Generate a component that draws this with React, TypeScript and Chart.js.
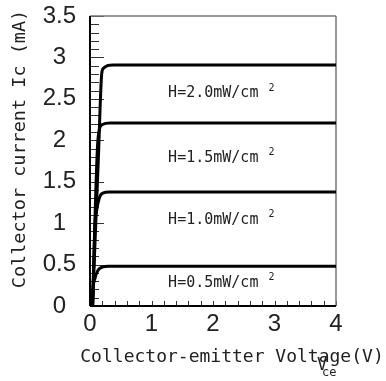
import React, { useEffect, useRef } from 'react';
import { Chart, registerables } from 'chart.js';

Chart.register(...registerables);

// Output characteristics (Vce in V, Ic in mA)
const curve20X = [0.04, 0.135, 0.19, 0.22, 0.28, 0.38, 4];
const curve20Y = [0, 1.76, 2.8, 2.87, 2.9, 2.91, 2.91];
const curve15X = [0.04, 0.12, 0.15, 0.2, 0.33, 4];
const curve15Y = [0, 1.9, 2.12, 2.19, 2.21, 2.21];
const curve10X = [0.045, 0.08, 0.11, 0.15, 0.2, 0.32, 4];
const curve10Y = [0, 0.97, 1.16, 1.3, 1.36, 1.375, 1.375];
const curve05X = [0.04, 0.05, 0.08, 0.13, 0.2, 0.3, 4];
const curve05Y = [0, 0.2, 0.33, 0.43, 0.47, 0.48, 0.48];

const labelTexts = ['H=2.0mW/cm', 'H=1.5mW/cm', 'H=1.0mW/cm', 'H=0.5mW/cm'];
const labelSup = '2';
const labelX = 1.27;
const labelY = [2.57, 1.79, 1.04, 0.28];

const xTitle = 'Collector-emitter Voltage(V)';
const yTitle = 'Collector current Ic (mA)';

const X_MIN = 0, X_MAX = 4, X_STEP = 1;
const Y_MIN = 0, Y_MAX = 3.5, Y_STEP = 0.5;

const tickFont = "'Liberation Sans', Arial, sans-serif";
const monoFont = "'DejaVu Sans Mono', monospace";

const toPts = (xs: number[], ys: number[]) => xs.map((v, i) => ({ x: v, y: ys[i] }));

const decor = {
  id: 'decor',
  beforeDatasetsDraw(chart: any) {
    const { ctx, chartArea, scales } = chart;
    const { left, right, top, bottom } = chartArea;
    const x = scales.x, y = scales.y;
    ctx.save();
    const line = (x1: number, y1: number, x2: number, y2: number) => {
      ctx.beginPath(); ctx.moveTo(x1, y1); ctx.lineTo(x2, y2); ctx.stroke();
    };
    // inward ticks
    ctx.strokeStyle = '#333';
    ctx.lineWidth = 1;
    for (let i = 0; i <= 35; i++) {
      const py = Math.round(y.getPixelForValue(i / 10)) + 0.5;
      line(left, py, left + (i % 5 === 0 ? 14 : 9), py);
    }
    for (let i = 0; i <= 20; i++) {
      const px = Math.round(x.getPixelForValue(i / 5)) + 0.5;
      line(px, bottom, px, bottom - 5);
    }
    // frame
    ctx.strokeStyle = '#777';
    ctx.lineWidth = 1.5;
    line(left, top, right, top);
    line(right, top, right, bottom);
    ctx.strokeStyle = '#000';
    ctx.lineWidth = 2;
    line(left, top, left, bottom);
    line(left, bottom, right, bottom);
    // annotations
    ctx.fillStyle = '#222';
    ctx.textBaseline = 'middle';
    ctx.textAlign = 'left';
    labelTexts.forEach((t, i) => {
      const px = x.getPixelForValue(labelX);
      const py = y.getPixelForValue(labelY[i]);
      ctx.font = `15px ${monoFont}`;
      ctx.fillText(t, px, py);
      const w = ctx.measureText(t).width;
      ctx.font = `10px ${monoFont}`;
      ctx.fillText(labelSup, px + w + 10, py - 5);
    });
    ctx.restore();
  },
  afterDraw(chart: any) {
    const { ctx } = chart;
    ctx.save();
    ctx.fillStyle = '#222';
    ctx.font = `18px ${monoFont}`;
    ctx.textBaseline = 'middle';
    ctx.textAlign = 'center';
    ctx.fillText(xTitle, 232, 357);
    ctx.textAlign = 'left';
    ctx.font = `17px ${monoFont}`;
    ctx.fillText('V', 317, 366);
    ctx.font = `12px ${monoFont}`;
    ctx.fillText('ce', 322, 373);
    ctx.translate(20, 149);
    ctx.rotate(-Math.PI / 2);
    ctx.font = `18.5px ${monoFont}`;
    ctx.textAlign = 'center';
    ctx.fillText(yTitle, 0, 0);
    ctx.restore();
  },
};

export default function App() {
  const ref = useRef<HTMLCanvasElement | null>(null);
  useEffect(() => {
    if (!ref.current) return;
    const ds = (xs: number[], ys: number[]) => ({
      data: toPts(xs, ys),
      borderColor: '#000',
      borderWidth: 3,
      pointRadius: 0,
      fill: false,
      cubicInterpolationMode: 'monotone' as const,
    });
    const chart = new Chart(ref.current, {
      type: 'line',
      data: {
        datasets: [
          ds(curve20X, curve20Y),
          ds(curve15X, curve15Y),
          ds(curve10X, curve10Y),
          ds(curve05X, curve05Y),
        ],
      },
      options: {
        animation: false,
        responsive: false,
        maintainAspectRatio: false,
        layout: { padding: { top: 16, right: 50, left: 0, bottom: 0 } },
        plugins: { legend: { display: false }, tooltip: { enabled: false }, title: { display: false } },
        scales: {
          x: {
            type: 'linear',
            min: X_MIN,
            max: X_MAX,
            grid: { display: false },
            border: { display: false },
            ticks: { stepSize: X_STEP, color: '#222', font: { family: tickFont, size: 24 }, padding: -4 },
            afterFit: (s: any) => { s.height = 75; s.paddingLeft = 0; s.paddingRight = 0; },
          },
          y: {
            type: 'linear',
            min: Y_MIN,
            max: Y_MAX,
            grid: { display: false },
            border: { display: false },
            ticks: {
              stepSize: Y_STEP,
              color: '#222',
              font: { family: tickFont, size: 24 },
              padding: 6,
              crossAlign: 'center',
              callback: (v: any) => String(v),
            },
            afterFit: (s: any) => { s.width = 90; s.paddingTop = 0; s.paddingBottom = 0; },
          },
        },
      },
      plugins: [decor],
    });
    return () => chart.destroy();
  }, []);
  return (
    <div style={{ position: 'absolute', left: 0, top: 0, width: 386, height: 381 }}>
      <canvas ref={ref} width={386} height={381} />
    </div>
  );
}
